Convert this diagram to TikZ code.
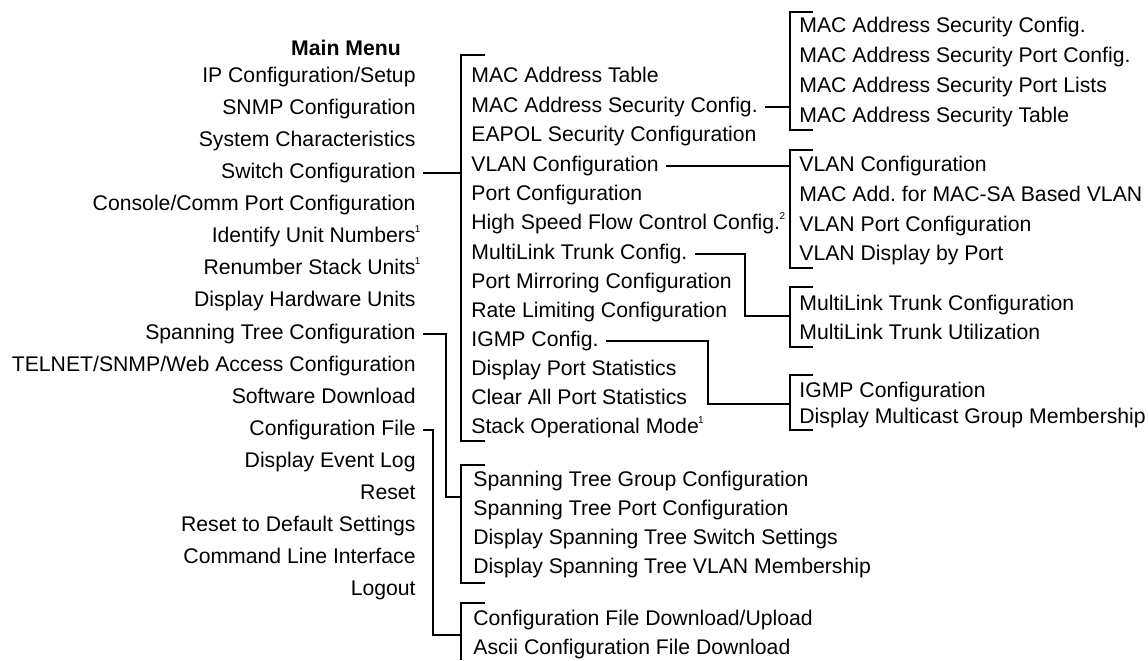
\documentclass[tikz,border=0pt]{standalone}
\usepackage{fontspec}
\setmainfont{Liberation Sans}
\usepackage{tikz}
\usetikzlibrary{calc}

\newcommand{\supnote}[1]{\kern-0.3pt\raisebox{0.85ex}{\fontsize{5}{5}\selectfont #1}}

\begin{document}
\frenchspacing
\begin{tikzpicture}[x=0.5pt, y=-0.5pt,
		every node/.style={font=\fontsize{10.6}{12}\selectfont, inner xsep=3.5pt, inner ysep=0pt, text height=7pt, text depth=2pt},
		lft/.style={anchor=east},
		rgt/.style={anchor=west},
		link/.style={line width=0.6pt, line join=miter}]
		\useasboundingbox (0,0) rectangle (1148,660);
		% Hauptmenue
		\node[font=\fontsize{10.6}{12}\selectfont\bfseries] (title) at (346,50) {Main Menu};
		\node[lft] (ipcfg) at (423,77) {IP Configuration/Setup};
		\node[lft] (snmp) at (423,109) {SNMP Configuration};
		\node[lft] (sysch) at (423,141) {System Characteristics};
		\node[lft] (swcfg) at (423,173) {Switch Configuration};
		\node[lft] (console) at (423,205) {Console/Comm Port Configuration};
		\node[lft] (ident) at (423,237) {Identify Unit Numbers\rlap{\supnote{1}}};
		\node[lft] (renum) at (423,269) {Renumber Stack Units\rlap{\supnote{1}}};
		\node[lft] (dhw) at (423,301) {Display Hardware Units};
		\node[lft] (stp) at (423,334) {Spanning Tree Configuration};
		\node[lft] (telnet) at (423,366) {TELNET/SNMP/Web Access Configuration};
		\node[lft] (swdl) at (423,398) {Software Download};
		\node[lft] (cfgfile) at (423,430) {Configuration File};
		\node[lft] (evlog) at (423,462) {Display Event Log};
		\node[lft] (reset) at (423,494) {Reset};
		\node[lft] (rdef) at (423,526) {Reset to Default Settings};
		\node[lft] (cli) at (423,558) {Command Line Interface};
		\node[lft] (logout) at (423,590) {Logout};
		% Switch Configuration
		\coordinate (b2) at (461,55);
		\draw[link] (485,55) -- (b2) -- (461,441) -- (485,441);
		\node[rgt] (mactab) at (464,77) {MAC Address Table};
		\node[rgt] (macsec) at (464,107) {MAC Address Security Config.};
		\node[rgt] (eapol) at (464,136) {EAPOL Security Configuration};
		\node[rgt] (vlan) at (464,166) {VLAN Configuration};
		\node[rgt] (portcfg) at (464,195) {Port Configuration};
		\node[rgt] (hsfc) at (464,224) {High Speed Flow Control Config.\supnote{2}};
		\node[rgt] (mlt) at (464,254) {MultiLink Trunk Config.};
		\node[rgt] (mirror) at (464,283) {Port Mirroring Configuration};
		\node[rgt] (rate) at (464,312) {Rate Limiting Configuration};
		\node[rgt] (igmp) at (464,341) {IGMP Config.};
		\node[rgt] (pstat) at (464,370) {Display Port Statistics};
		\node[rgt] (clrstat) at (464,399) {Clear All Port Statistics};
		\node[rgt] (stackop) at (464,428) {Stack Operational Mode\supnote{1}};
		\draw[link] (swcfg.east) -- (swcfg.east -| b2);
		% MAC Address Security
		\coordinate (b3a) at (790,12);
		\draw[link] (813,12) -- (b3a) -- (790,130) -- (813,130);
		\node[rgt] (secc) at (792,27) {MAC Address Security Config.};
		\node[rgt] (secpc) at (792,57) {MAC Address Security Port Config.};
		\node[rgt] (secpl) at (792,87) {MAC Address Security Port Lists};
		\node[rgt] (sectab) at (792,117) {MAC Address Security Table};
		\draw[link] (macsec.east) -- (macsec.east -| b3a);
		% VLAN
		\coordinate (b3b) at (790,150);
		\draw[link] (813,150) -- (b3b) -- (790,268) -- (813,268);
		\node[rgt] (vcfg) at (792,166) {VLAN Configuration};
		\node[rgt] (vmac) at (792,196) {MAC Add. for MAC-SA Based VLAN};
		\node[rgt] (vport) at (792,226) {VLAN Port Configuration};
		\node[rgt] (vdisp) at (792,255) {VLAN Display by Port};
		\draw[link] (vlan.east) -- (vlan.east -| b3b);
		% MultiLink Trunk
		\draw[link] (813,287) -- (790,287) -- (790,347) -- (813,347);
		\node[rgt] (mltcfg) at (792,305) {MultiLink Trunk Configuration};
		\node[rgt] (mltuse) at (792,334) {MultiLink Trunk Utilization};
		\coordinate (k3c) at (745,316);
		\coordinate (j3c) at (790,316);
		\draw[link] (mlt.east) -| (k3c) -- (j3c);
		% IGMP
		\draw[link] (813,375) -- (790,375) -- (790,430) -- (813,430);
		\node[rgt] (igmpcfg) at (792,392) {IGMP Configuration};
		\node[rgt] (mcast) at (792,418) {Display Multicast Group Membership};
		\coordinate (k3d) at (708,404);
		\coordinate (j3d) at (790,404);
		\draw[link] (igmp.east) -| (k3d) -- (j3d);
		% Spanning Tree
		\draw[link] (485,465) -- (461,465) -- (461,583) -- (485,583);
		\node[rgt] (stpgrp) at (466,481) {Spanning Tree Group Configuration};
		\node[rgt] (stpport) at (466,510) {Spanning Tree Port Configuration};
		\node[rgt] (stpsw) at (466,539) {Display Spanning Tree Switch Settings};
		\node[rgt] (stpvlan) at (466,568) {Display Spanning Tree VLAN Membership};
		\coordinate (k4) at (446,497);
		\coordinate (j4) at (461,497);
		\draw[link] (stp.east) -| (k4) -- (j4);
		% Configuration File
		\draw[link] (485,603) -- (461,603) -- (461,660);
		\node[rgt] (cfgdl) at (466,620) {Configuration File Download/Upload};
		\node[rgt] (ascii) at (466,649) {Ascii Configuration File Download};
		\coordinate (k5) at (433,635);
		\coordinate (j5) at (461,635);
		\draw[link] (cfgfile.east) -| (k5) -- (j5);
	\end{tikzpicture}
\end{document}
